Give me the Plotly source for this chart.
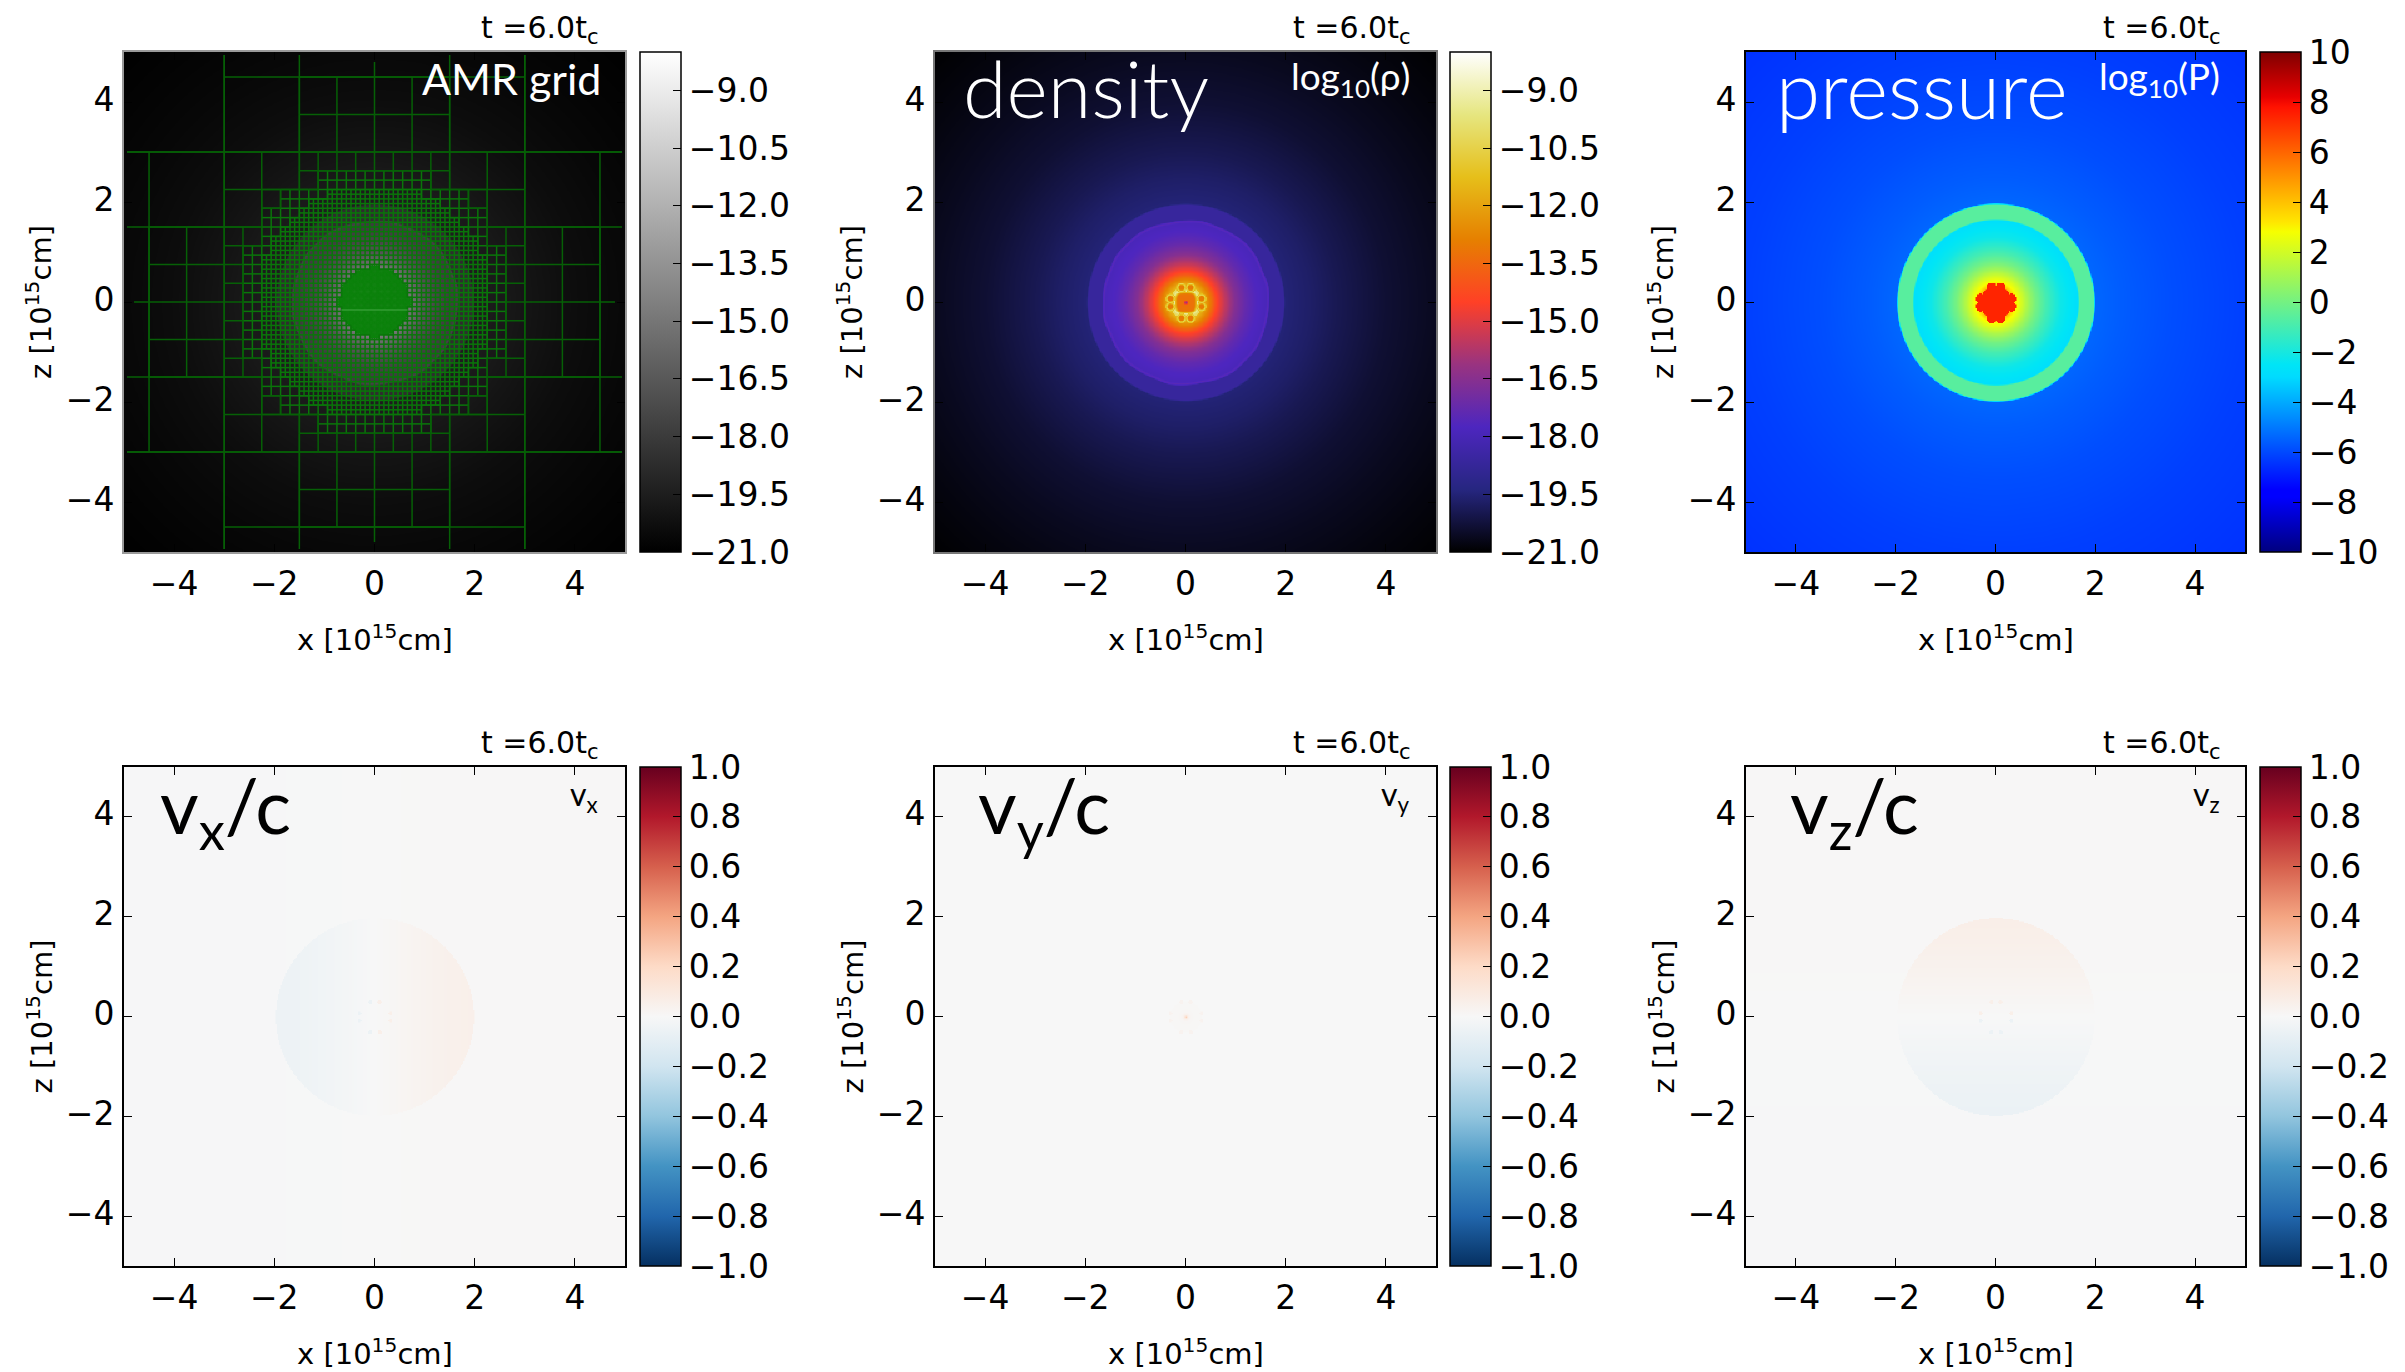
import numpy as np
import plotly.graph_objects as go

W, H = 2405, 1372
# ---- axes and ticks
AXIS_TICKS = [-4, -2, 0, 2, 4]
AXIS_TEXT = ["\u22124", "\u22122", "0", "2", "4"]
RHO_TICKS = [-21, -19.5, -18, -16.5, -15, -13.5, -12, -10.5, -9]
RHO_TEXT = ["\u221221.0", "\u221219.5", "\u221218.0", "\u221216.5", "\u221215.0", "\u221213.5", "\u221212.0", "\u221210.5", "\u22129.0"]
P_TICKS = [-10, -8, -6, -4, -2, 0, 2, 4, 6, 8, 10]
P_TEXT = ["\u221210", "\u22128", "\u22126", "\u22124", "\u22122", "0", "2", "4", "6", "8", "10"]
V_TICKS = [-1, -.8, -.6, -.4, -.2, 0, .2, .4, .6, .8, 1]
V_TEXT = ["\u22121.0", "\u22120.8", "\u22120.6", "\u22120.4", "\u22120.2", "0.0", "0.2", "0.4", "0.6", "0.8", "1.0"]
# ---- radial profiles
RHO_R = [0.28, 0.31, 0.38, 0.48, 0.62, 0.78, 0.98, 1.20, 1.40, 1.60, 1.635, 1.655, 1.67, 1.95, 1.98, 2.5, 3.0, 4.0, 5.0, 6.0, 7.2]
RHO_V = [-10.2, -11.2, -12.0, -13.0, -14.5, -15.5, -16.6, -17.3, -17.7, -17.9, -17.5, -17.9, -18.65, -18.65, -19.5, -19.7, -19.95, -20.35, -20.6, -20.8, -21.0]
RIM_JAG = [1.0, 1.012, .995, 1.006, 1.015, 1.0, .99, 1.006, .995, .985, 1.0, 1.012, 1.0, 1.012, 1.0, .995, 1.0, 1.012, .995, 1.012, 1.015, 1.0, .99, 1.0, .99, .985, 1.0, 1.012, 1.006, 1.015, 1.0, 1.006]
P_R = [0.30, 0.40, 0.50, 0.65, 0.80, 1.00, 1.30, 1.64, 1.67, 1.96, 1.99, 2.5, 3.5, 5.0, 7.2]
P_V = [4.6, 3.0, 2.2, 1.0, 0.0, -1.0, -2.2, -2.8, -0.6, -0.6, -5.4, -5.6, -5.9, -6.2, -6.5]
P_CORE = 7.4
LOBE_X = [-.09, .09, -.09, .09, -.31, -.31, .31, .31]
LOBE_Z = [.30, .30, -.31, -.31, .08, -.08, .08, -.08]
RHO_LOBE_R = [0.045, 0.075, 0.10]
RHO_LOBE_V = [-13.0, -10.3, -11.5]
RHO_RING_R = [0.02, 0.04, 0.17, 0.20, 0.22, 0.25, 0.28]
RHO_RING_V = [-16.0, -13.3, -13.2, -11.5, -9.3, -10.0, -10.2]
# ---- velocity shell profiles
V_POS = [-2.0, -1.5, -1.0, -0.5, -0.10, 0.10, 0.5, 1.0, 1.5, 2.0]
VX_SHELL = [-.055, -.05, -.035, -.018, -.003, .004, .018, .035, .05, .055]
VZ_SHELL = [-.065, -.055, -.04, -.02, -.004, .004, .02, .04, .055, .065]
V_OUT = [-.006, -.005, -.004, -.002, 0, 0, .002, .004, .005, .006]
VY_CORE_R = [0.0, 0.04, 0.10, 0.32]
VY_CORE_V = [0.24, 0.05, 0.012, 0.006]
V_LOBE = 0.06
VY_LOBE = 0.035
# ---- AMR tree: cell size and the distance within which that cell is split
TREE_SIZE = [6.0, 3.0, 1.5, 0.75, 0.375, 0.1875, 0.09375, 0.046875, 0.0234375]
TREE_REACH = [9.0, 3.0, 3.0, 2.5, 2.45, 2.2, 0.66, 0.66, 0.0]
GRID_LIMIT = 4.94
AXIS_LINE_LIMIT = 4.8
GRID_CLASS_SIZE = [0.3, 0.05, 0.0]
GRID_CLASS_COLOR = ["rgb(6,96,6)", "rgb(10,118,10)", "rgb(12,130,12)"]
BRIGHT_X = [-0.66, 0.66]
BRIGHT_Z = [-0.16, -0.16]
# ---- colours
GRAY = [[0, "#000000"], [1, "#ffffff"]]
CMR = [[0, "rgb(0,0,0)"], [.125, "rgb(38,38,128)"], [.25, "rgb(77,38,191)"], [.375, "rgb(153,51,128)"], [.5, "rgb(255,64,38)"],
       [.625, "rgb(230,128,0)"], [.75, "rgb(230,191,26)"], [.875, "rgb(230,230,128)"], [1, "rgb(255,255,255)"]]
JET = [[0, "rgb(0,0,127)"], [.11, "rgb(0,0,255)"], [.125, "rgb(0,0,255)"], [.35, "rgb(0,219,255)"], [.375, "rgb(0,229,246)"], [.64, "rgb(246,255,0)"], [.66, "rgb(255,230,0)"],
       [.89, "rgb(255,18,0)"], [.91, "rgb(232,0,0)"], [1, "rgb(127,0,0)"]]
RDBU = [[0, "#053061"], [.1, "#2166ac"], [.2, "#4393c3"], [.3, "#92c5de"], [.4, "#d1e5f0"], [.5, "#f7f7f7"],
        [.6, "#fddbc7"], [.7, "#f4a582"], [.8, "#d6604d"], [.9, "#b2182b"], [1, "#67001f"]]
FRAME = ["#9a9a9a", "#777777", "black", "black", "black", "black"]

# ---- pixel layout
PANEL_X = [(124, 625), (935, 1436), (1746, 2245)]
BAR_X = [(639.5, 680), (1450, 1491), (2260, 2301)]
ROW_Y = [(52, 552), (767, 1266)]
TIME_R = [598, 1410, 2220]
TIME_Y = [29, 744]
XLABEL_DY = 86
ZLABEL_DX = 85

g = np.arange(-5.05, 5.0501, 0.025)
X, Z = np.meshgrid(g, g)
R = np.hypot(X, Z)
TH = np.arctan2(Z, X)
R4 = (X**4 + Z**4) ** .25

# density
jag_theta = np.linspace(-np.pi, np.pi, len(RIM_JAG) + 1)
rim = np.interp(TH, jag_theta, RIM_JAG + RIM_JAG[:1])
reff = np.where((R > 1.45) & (R < 1.75), R / rim, R)
rho = np.interp(reff, RHO_R, RHO_V)
rho = np.where(R4 < .28, np.interp(R4, RHO_RING_R, RHO_RING_V), rho)
lobe_d = np.min([np.hypot(X - a, Z - b) for a, b in zip(LOBE_X, LOBE_Z)], axis=0)
rho = np.where(lobe_d < .10, np.minimum(np.interp(lobe_d, RHO_LOBE_R, RHO_LOBE_V), np.maximum(rho, -10.3)), rho)
# pressure
pres = np.interp(R, P_R, P_V)
pres = np.where((np.maximum(abs(X), abs(Z)) < .27) & (R < .33), P_CORE, pres)
pres = np.where(lobe_d < .10, P_CORE, pres)
# velocities
inside = R < 1.98
vx = np.where(inside, np.interp(X, V_POS, VX_SHELL), np.interp(X, V_POS, V_OUT))
vz = np.where(inside, np.interp(Z, V_POS, VZ_SHELL), np.interp(Z, V_POS, V_OUT))
vx = np.where(lobe_d < .04, np.sign(X) * V_LOBE, vx)
vz = np.where(lobe_d < .04, np.sign(Z) * V_LOBE, vz)
vy = np.where(R < .32, np.interp(R, VY_CORE_R, VY_CORE_V), 0.0)
vy = np.where(lobe_d < .04, VY_LOBE, vy)

# AMR cell edges
edges = set()
def walk(x0, z0, level):
    s = TREE_SIZE[level]
    nx = max(x0, -x0 - s, 0.0)
    nz = max(z0, -z0 - s, 0.0)
    if level < len(TREE_SIZE) - 1 and np.hypot(nx, nz) <= TREE_REACH[level] + 1e-9:
        h = s / 2
        for a in (x0, x0 + h):
            for b in (z0, z0 + h):
                walk(a, b, level + 1)
    else:
        edges.add((x0, z0, x0 + s, z0))
        edges.add((x0, z0 + s, x0 + s, z0 + s))
        edges.add((x0, z0, x0, z0 + s))
        edges.add((x0 + s, z0, x0 + s, z0 + s))
for a in (-6.0, 0.0):
    for b in (-6.0, 0.0):
        walk(a, b, 0)
grid_x = [[] for _ in GRID_CLASS_SIZE]
grid_z = [[] for _ in GRID_CLASS_SIZE]
for x1, z1, x2, z2 in sorted(edges):
    size = (x2 - x1) + (z2 - z1)
    lim_x = AXIS_LINE_LIMIT if z1 == z2 == 0.0 else GRID_LIMIT
    lim_z = AXIS_LINE_LIMIT if x1 == x2 == 0.0 else GRID_LIMIT
    x1, x2 = max(x1, -lim_x), min(x2, lim_x)
    z1, z2 = max(z1, -lim_z), min(z2, lim_z)
    if x1 > x2 or z1 > z2 or abs(x1) > GRID_LIMIT or abs(z1) > GRID_LIMIT:
        continue
    k = next(i for i, v in enumerate(GRID_CLASS_SIZE) if size > v)
    grid_x[k] += [x1, x2, None]
    grid_z[k] += [z1, z2, None]

fig = go.Figure()
panels = [
    (rho, GRAY, -21, -8, RHO_TICKS, RHO_TEXT),
    (rho, CMR, -21, -8, RHO_TICKS, RHO_TEXT),
    (pres, JET, -10, 10, P_TICKS, P_TEXT),
    (vx, RDBU, -1, 1, V_TICKS, V_TEXT),
    (vy, RDBU, -1, 1, V_TICKS, V_TEXT),
    (vz, RDBU, -1, 1, V_TICKS, V_TEXT),
]
FS = 33
layout = {}
ann = []
def note(text, x, y, size=FS, color="black", xa="center", family="DejaVu Sans", angle=0, weight=None):
    f = dict(family=family, size=size, color=color)
    if weight:
        f["weight"] = weight
    ann.append(dict(text=text, x=x / W, y=1 - y / H, xref="paper", yref="paper", xanchor=xa, yanchor="middle",
                    showarrow=False, font=f, textangle=angle, borderpad=0, borderwidth=0))

for i, (field, cs, lo, hi, tv, tt) in enumerate(panels):
    col, row = i % 3, i // 3
    sfx = "" if i == 0 else str(i + 1)
    (x0, x1), (y0, y1) = PANEL_X[col], ROW_Y[row]
    (b0, b1) = BAR_X[col]
    fig.add_trace(go.Heatmap(
        x=g, y=g, z=field.astype("float32"), colorscale=cs, zmin=lo, zmax=hi, zsmooth="best", hoverinfo="skip",
        xaxis="x" + sfx, yaxis="y" + sfx,
        colorbar=dict(x=b0 / W, xanchor="left", xref="paper", y=1 - y1 / H, yanchor="bottom", yref="paper",
                      len=(y1 - y0), lenmode="pixels", thickness=b1 - b0, thicknessmode="pixels", xpad=0, ypad=0,
                      outlinecolor="black", outlinewidth=1.5, ticks="inside", ticklen=8, tickwidth=1, tickcolor="black",
                      tickvals=tv, ticktext=tt, tickfont=dict(family="DejaVu Sans", size=FS, color="black"), borderwidth=0)))
    ax = dict(range=[-5, 5], tickvals=AXIS_TICKS, ticktext=AXIS_TEXT, ticks="inside", ticklen=8, tickwidth=1, tickcolor="black",
              showgrid=False, zeroline=False, showline=True, linecolor=FRAME[i], linewidth=2, mirror="ticks",
              tickfont=dict(family="DejaVu Sans", size=FS, color="black"))
    layout["xaxis" + sfx] = dict(ax, domain=[x0 / W, x1 / W], anchor="y" + sfx, ticklabelstandoff=1)
    layout["yaxis" + sfx] = dict(ax, domain=[1 - y1 / H, 1 - y0 / H], anchor="x" + sfx, ticklabelstandoff=1, ticklabelshift=-3)
    cx = (x0 + x1) / 2
    note("x [10<sup>15</sup>cm]", cx, y1 + XLABEL_DY, size=29)
    note("z [10<sup>15</sup>cm]", x0 - ZLABEL_DX, (y0 + y1) / 2, size=29, angle=-90)
    note("t =6.0t<sub>c</sub>", TIME_R[col], TIME_Y[row], size=30, xa="right")

for k in range(len(GRID_CLASS_SIZE) - 1, -1, -1):
    fig.add_trace(go.Scatter(x=grid_x[k], y=grid_z[k], mode="lines", line=dict(color=GRID_CLASS_COLOR[k], width=1.5),
                             hoverinfo="skip", showlegend=False, xaxis="x", yaxis="y"))
fig.add_trace(go.Scatter(x=BRIGHT_X, y=BRIGHT_Z, mode="lines", line=dict(color="rgb(70,170,70)", width=1), hoverinfo="skip", showlegend=False, xaxis="x", yaxis="y"))

TITLE = "Lato"
note("AMR grid", 601, 78, size=43, color="white", xa="right", family=TITLE, weight=400)
note("density", 963, 88, size=79, color="white", xa="left", family=TITLE, weight=300)
note("log<sub>10</sub>(\u03c1)", 1410, 78, size=37, color="white", xa="right", family=TITLE, weight=400)
note("pressure", 1776, 88, size=80, color="white", xa="left", family=TITLE, weight=300)
note("log<sub>10</sub>(P)", 2220, 78, size=37, color="white", xa="right", family=TITLE, weight=400)
for col, (lab, sym, lx) in enumerate([("v<sub>x</sub>/c", "v<sub>x</sub>", 160), ("v<sub>y</sub>/c", "v<sub>y</sub>", 978), ("v<sub>z</sub>/c", "v<sub>z</sub>", 1790)]):
    note(lab, lx, 810, size=75, xa="left", family=TITLE, weight=400)
    note(sym, TIME_R[col], 796, size=32, xa="right", family=TITLE, weight=400)

fig.update_layout(width=W, height=H, autosize=False, margin=dict(l=0, r=0, t=0, b=0), paper_bgcolor="white",
                  plot_bgcolor="white", showlegend=False, annotations=ann, **layout)
fig.write_html("out.html", config={"displayModeBar": False},
               post_script="document.body.style.margin='0';document.body.style.overflow='hidden';")
